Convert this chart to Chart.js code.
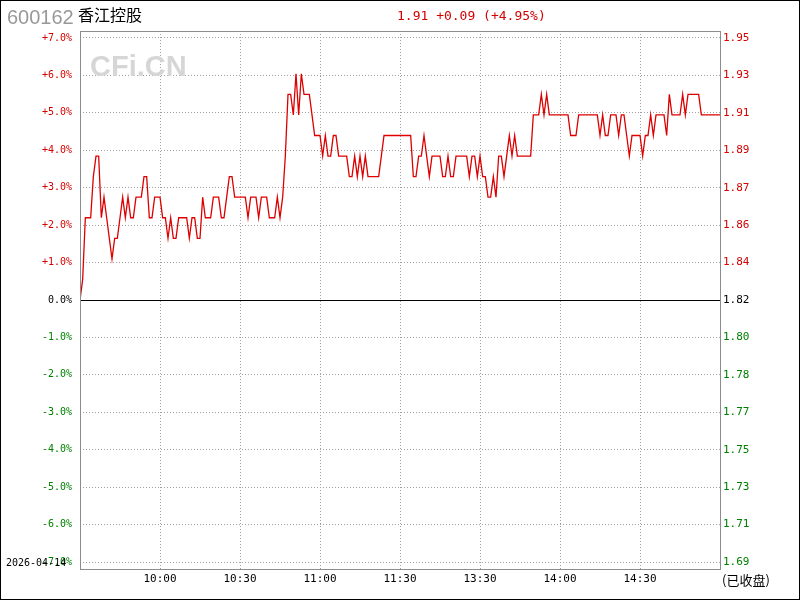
<!DOCTYPE html>
<html><head><meta charset="utf-8">
<script src="https://cdn.jsdelivr.net/npm/chart.js@4.4.1/dist/chart.umd.min.js"></script>
<style>html,body{margin:0;padding:0;background:#fff}canvas{display:block}</style>
</head><body>
<canvas id="c" width="800" height="600"></canvas>
<script>
const stockCode = "600162";
const stockName = "香江控股";
const quoteText = "1.91 +0.09 (+4.95%)";
const tradeDate = "2026-04-14";
const closedText = "(已收盘)";
const watermark = "CFi.CN";
const prevClose = 1.82;
const timeTickMinutes = [30, 60, 90, 120, 150, 180, 210];
const timeTickLabels = ["10:00", "10:30", "11:00", "11:30", "13:30", "14:00", "14:30"];
const pctTicks = [7, 6, 5, 4, 3, 2, 1, 0, -1, -2, -3, -4, -5, -6, -7];
const pctTickLabels = ["+7.0%", "+6.0%", "+5.0%", "+4.0%", "+3.0%", "+2.0%", "+1.0%", "0.0%", "-1.0%", "-2.0%", "-3.0%", "-4.0%", "-5.0%", "-6.0%", "-7.0%"];
const priceTickLabels = ["1.95", "1.93", "1.91", "1.89", "1.87", "1.86", "1.84", "1.82", "1.80", "1.78", "1.77", "1.75", "1.73", "1.71", "1.69"];
const minutePrices = [
  1.82,1.83,1.86,1.86,1.86,1.88,1.89,1.89,1.86,1.87,
  1.86,1.85,1.84,1.85,1.85,1.86,1.87,1.86,1.87,1.86,
  1.86,1.87,1.87,1.87,1.88,1.88,1.86,1.86,1.87,1.87,
  1.87,1.86,1.86,1.85,1.86,1.85,1.85,1.86,1.86,1.86,
  1.86,1.85,1.86,1.86,1.85,1.85,1.87,1.86,1.86,1.86,
  1.87,1.87,1.87,1.86,1.86,1.87,1.88,1.88,1.87,1.87,
  1.87,1.87,1.87,1.86,1.87,1.87,1.87,1.86,1.87,1.87,
  1.87,1.86,1.86,1.86,1.87,1.86,1.87,1.89,1.92,1.92,
  1.91,1.93,1.91,1.93,1.92,1.92,1.92,1.91,1.90,1.90,
  1.90,1.89,1.90,1.89,1.89,1.90,1.90,1.89,1.89,1.89,
  1.89,1.88,1.88,1.89,1.88,1.89,1.88,1.89,1.88,1.88,
  1.88,1.88,1.88,1.89,1.90,1.90,1.90,1.90,1.90,1.90,
  1.90,1.90,1.90,1.90,1.90,1.88,1.88,1.89,1.89,1.90,
  1.89,1.88,1.89,1.89,1.89,1.89,1.88,1.88,1.89,1.88,
  1.88,1.89,1.89,1.89,1.89,1.89,1.88,1.89,1.89,1.88,
  1.89,1.88,1.88,1.87,1.87,1.88,1.87,1.89,1.89,1.88,
  1.89,1.90,1.89,1.90,1.89,1.89,1.89,1.89,1.89,1.89,
  1.91,1.91,1.91,1.92,1.91,1.92,1.91,1.91,1.91,1.91,
  1.91,1.91,1.91,1.91,1.90,1.90,1.90,1.91,1.91,1.91,
  1.91,1.91,1.91,1.91,1.91,1.90,1.91,1.90,1.90,1.91,
  1.91,1.91,1.90,1.91,1.91,1.90,1.89,1.90,1.90,1.90,
  1.90,1.89,1.90,1.90,1.91,1.90,1.91,1.91,1.91,1.91,
  1.90,1.92,1.91,1.91,1.91,1.91,1.92,1.91,1.92,1.92,
  1.92,1.92,1.92,1.91,1.91,1.91,1.91,1.91,1.91,1.91,1.91
];

const RANGE = 7.187; // percent half-range of plot box
const MONO = "'DejaVu Sans Mono', 'Liberation Mono', monospace";
const RED = '#d40000', GREEN = '#008000';

function colorFor(k) { return k > 0 ? RED : (k < 0 ? GREEN : '#000'); }

const decorPlugin = {
  id: 'decor',
  beforeDatasetsDraw(chart) {
    const ctx = chart.ctx, a = chart.chartArea;
    const yP = chart.scales.yPct;
    ctx.save();
    // watermark
    ctx.font = "bold 29px 'Liberation Sans', Arial, sans-serif";
    ctx.fillStyle = '#d6d6d6';
    ctx.textBaseline = 'alphabetic';
    ctx.textAlign = 'left';
    ctx.fillText(watermark, a.left + 10, 76);
    // zero line
    const y0 = Math.round(yP.getPixelForValue(0)) + 0.5;
    ctx.strokeStyle = '#000';
    ctx.lineWidth = 1;
    ctx.beginPath(); ctx.moveTo(a.left, y0); ctx.lineTo(a.right, y0); ctx.stroke();
    ctx.restore();
  },
  afterDraw(chart) {
    const ctx = chart.ctx, a = chart.chartArea;
    ctx.save();
    // plot box
    ctx.strokeStyle = '#8c8c8c';
    ctx.lineWidth = 1;
    ctx.strokeRect(Math.round(a.left) + 0.5, Math.round(a.top) + 0.5, Math.round(a.right - a.left), Math.round(a.bottom - a.top));
    // outer frame
    ctx.strokeStyle = '#000';
    ctx.strokeRect(0.5, 0.5, 799, 599);
    // header
    ctx.textBaseline = 'alphabetic';
    ctx.textAlign = 'left';
    ctx.fillStyle = '#999';
    ctx.font = "20px 'Liberation Sans', Arial, sans-serif";
    ctx.fillText(stockCode, 7, 24);
    ctx.fillStyle = '#000';
    ctx.font = "16px 'Noto Sans CJK SC', sans-serif";
    ctx.fillText(stockName, 78, 21);
    ctx.fillStyle = RED;
    ctx.font = "13px " + MONO;
    ctx.fillText(quoteText, 397, 20);
    // date
    ctx.fillStyle = '#000';
    ctx.font = "10px " + MONO;
    ctx.textBaseline = 'middle';
    ctx.fillText(tradeDate, 6, 563);
    // closed
    ctx.font = "13px 'Noto Sans CJK SC', sans-serif";
    ctx.fillText(closedText, 722, 580);
    ctx.restore();
  }
};

new Chart(document.getElementById('c'), {
  type: 'line',
  data: {
    datasets: [{
      data: minutePrices.map((p, i) => ({ x: i, y: p })),
      yAxisID: 'yPrice',
      xAxisID: 'x',
      borderColor: '#dd0000',
      borderWidth: 1.3,
      pointRadius: 0,
      tension: 0,
      fill: false
    }]
  },
  options: {
    responsive: false,
    animation: false,
    devicePixelRatio: 1,
    layout: { padding: { top: 31, left: 0, right: 0, bottom: 0 } },
    plugins: { legend: { display: false }, tooltip: { enabled: false } },
    scales: {
      x: {
        type: 'linear', position: 'bottom', min: 0, max: 240,
        afterBuildTicks: s => { s.ticks = timeTickMinutes.map(v => ({ value: v })); },
        afterFit: s => { s.height = 31; },
        grid: { color: '#a0a0a0', lineWidth: 1, drawTicks: false },
        border: { display: false, dash: [1, 2] },
        ticks: {
          padding: 4, maxRotation: 0, autoSkip: false,
          color: '#000', font: { family: MONO, size: 11 },
          callback: v => { const i = timeTickMinutes.indexOf(v); return i >= 0 ? timeTickLabels[i] : ''; }
        }
      },
      yPct: {
        type: 'linear', position: 'left', min: -RANGE, max: RANGE,
        afterBuildTicks: s => { s.ticks = pctTicks.map(v => ({ value: v })); },
        afterFit: s => { s.width = 80; },
        grid: { color: c => (c.tick && c.tick.value === 0) ? 'rgba(0,0,0,0)' : '#a0a0a0', lineWidth: 1, drawTicks: false },
        border: { display: false, dash: [1, 2] },
        ticks: {
          padding: 8, autoSkip: false,
          font: { family: MONO, size: 10 },
          color: c => colorFor(c.tick.value),
          callback: v => { const i = pctTicks.indexOf(Math.round(v)); return i >= 0 ? pctTickLabels[i] : ''; }
        }
      },
      yPrice: {
        type: 'linear', position: 'right',
        min: prevClose * (1 - RANGE / 100), max: prevClose * (1 + RANGE / 100),
        afterBuildTicks: s => { s.ticks = pctTicks.map(k => ({ value: prevClose * (1 + k / 100) })); },
        afterFit: s => { s.width = 80; },
        grid: { display: false, drawTicks: false },
        border: { display: false },
        ticks: {
          padding: 3, autoSkip: false,
          font: { family: MONO, size: 11 },
          color: c => colorFor(Math.round((c.tick.value / prevClose - 1) * 100)),
          callback: v => { const k = Math.round((v / prevClose - 1) * 100); const i = pctTicks.indexOf(k); return i >= 0 ? priceTickLabels[i] : ''; }
        }
      }
    }
  },
  plugins: [decorPlugin]
});
</script>
</body></html>
